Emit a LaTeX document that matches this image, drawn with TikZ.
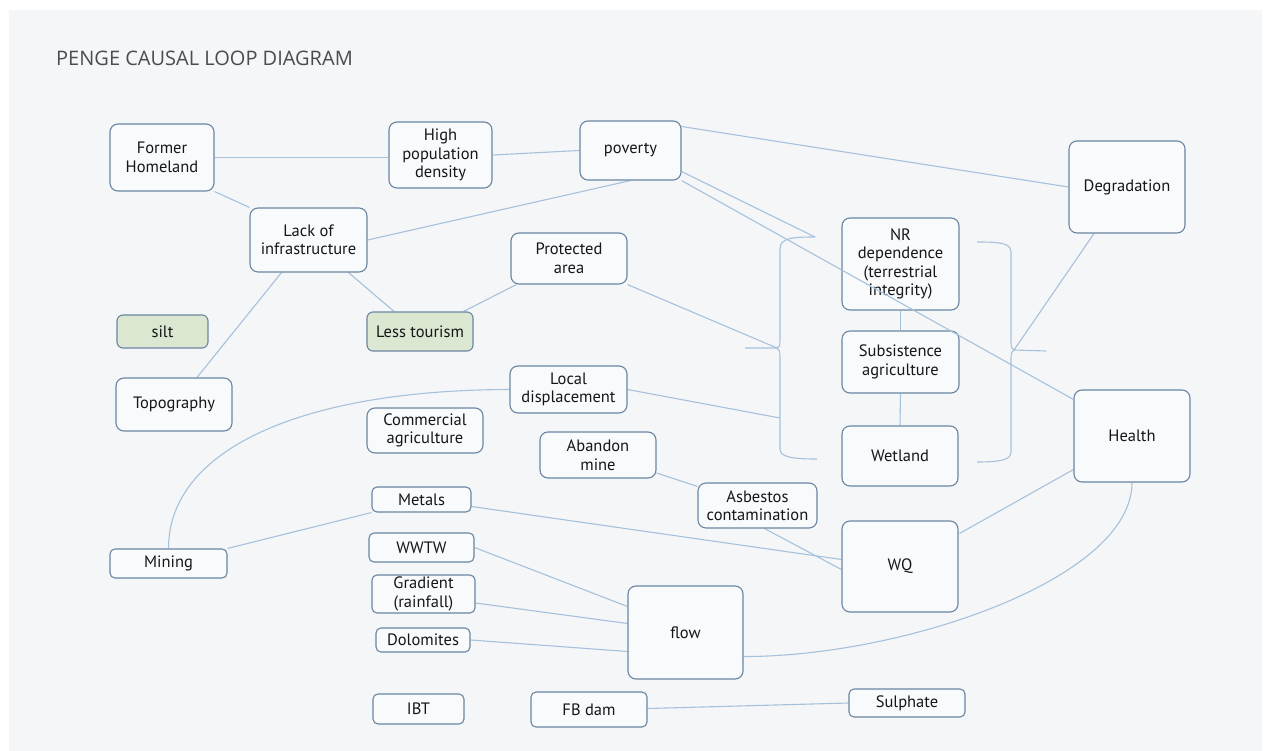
\documentclass[tikz,border=0pt]{standalone}
\usepackage{fontspec}
\setmainfont{PT Sans}
\newfontfamily\titlefont{Open Sans}
\usetikzlibrary{calc}
\definecolor{pagebg}{HTML}{F5F6F7}
\definecolor{boxfill}{HTML}{F9FAFB}
\definecolor{boxline}{HTML}{6A85A1}
\definecolor{linkline}{HTML}{A6C1DB}
\definecolor{greenfill}{HTML}{DCE7D2}
\definecolor{titlegray}{HTML}{4A4D50}
\definecolor{inkdark}{HTML}{151617}
\pgfdeclarelayer{backdrop}
\pgfdeclarelayer{links}
\pgfsetlayers{backdrop,links,main}
\tikzset{
  box/.style={draw=boxline, line width=1.1pt, fill=boxfill, rounded corners=8pt,
    inner sep=0pt, align=center, text=inkdark,
    font=\fontsize{16.5}{18.5}\selectfont},
  smallbox/.style={box, rounded corners=5pt},
  greenbox/.style={box, fill=greenfill, rounded corners=6pt},
  link/.style={draw=linkline, line width=1.1pt},
}
\begin{document}
\begin{tikzpicture}[x=1pt, y=-1pt]
\useasboundingbox (0,0) rectangle (1266,751);
\begin{pgfonlayer}{backdrop}
\fill[white] (0,0) rectangle (1266,751);
\fill[pagebg] (9,10) rectangle (1262,751);
\end{pgfonlayer}

\node[anchor=west, text=titlegray, inner sep=0pt, font=\titlefont\fontsize{20}{22}\selectfont]
  (title) at (56,58.5) {PENGE CAUSAL LOOP DIAGRAM};

% variables
\node[box, minimum width=104, minimum height=67] (fh)   at (162,157.5)  {Former\\Homeland};
\node[box, minimum width=103, minimum height=66] (hpd)  at (440.5,155)  {High\\population\\density};
\node[box, minimum width=101, minimum height=59] (pov)  at (630.5,150.5) {poverty};
\node[box, minimum width=116, minimum height=92] (deg)  at (1127,187)   {Degradation};
\node[box, minimum width=117, minimum height=64] (loi)  at (308.5,240)  {Lack of\\infrastructure};
\node[box, minimum width=116, minimum height=51] (pa)   at (569,258.5)  {Protected\\area};
\node[box, minimum width=117, minimum height=92] (nr)   at (900.5,264)  {NR\\dependence\\(terrestrial\\integrity)};
\node[greenbox, minimum width=91, minimum height=33] (silt) at (162.5,331.5) {silt};
\node[greenbox, minimum width=106, minimum height=39] (lt) at (420,331.5) {Less tourism};
\node[box, minimum width=117, minimum height=62] (sa)   at (900.5,362)  {Subsistence\\agriculture};
\node[box, minimum width=116, minimum height=53] (topo) at (174,404.5)  {Topography};
\node[box, minimum width=117, minimum height=47] (ld)   at (568.5,389.5) {Local\\displacement};
\node[box, minimum width=116, minimum height=45] (ca)   at (425,430.5)  {Commercial\\agriculture};
\node[box, minimum width=116, minimum height=46] (am)   at (598,455)    {Abandon\\mine};
\node[box, minimum width=116, minimum height=60] (wet)  at (900,456)    {Wetland};
\node[box, minimum width=116, minimum height=92] (hea)  at (1132,436)   {Health};
\node[box, minimum width=119, minimum height=45] (asb)  at (757.5,505.5) {Asbestos\\contamination};
\node[smallbox, minimum width=99, minimum height=25] (met) at (421.5,499.5) {Metals};
\node[box, minimum width=116, minimum height=91] (wq)   at (900,566.5)  {WQ};
\node[smallbox, minimum width=117, minimum height=29] (min) at (168.5,563.5) {Mining};
\node[smallbox, minimum width=105, minimum height=29] (wwtw) at (421.5,547.5) {WWTW};
\node[smallbox, minimum width=103, minimum height=38] (grad) at (423.5,594) {Gradient\\(rainfall)};
\node[box, minimum width=115, minimum height=93] (flow) at (685.5,632.5) {flow};
\node[smallbox, minimum width=94, minimum height=24] (dol)  at (423,640)  {Dolomites};
\node[smallbox, minimum width=91, minimum height=30] (ibt)  at (418.5,709) {IBT};
\node[smallbox, minimum width=116, minimum height=35] (fb)   at (589,709.5) {FB dam};
\node[smallbox, minimum width=116, minimum height=28] (sul)  at (907,703)  {Sulphate};

% brace points
\coordinate (lbt) at (815,237);
\coordinate (lbc) at (777,348);
\coordinate (lbb) at (817,459);
\coordinate (lbtip) at (745,348);
\coordinate (rbt) at (977,242);
\coordinate (rbc) at (1014,350);
\coordinate (rbb) at (977,462);
\coordinate (rbtip) at (1046,351);

\begin{pgfonlayer}{links}
% grouping braces
\draw[link] (lbt) .. controls (792,237) and (780,238) .. (780,249) -- (780,340)
  .. controls (780,346) and (779,348) .. (lbc) -- (lbtip);
\draw[link] (lbc) .. controls (779,349) and (780,351) .. (780,357) -- (780,449)
  .. controls (780,457) and (792,459) .. (lbb);
\draw[link] (rbt) .. controls (1000,242) and (1011,243) .. (1011,252) -- (1011,342)
  .. controls (1011,347) and (1012,349) .. (rbc) -- (rbtip);
\draw[link] (rbc) .. controls (1012,351) and (1011,353) .. (1011,358) -- (1011,452)
  .. controls (1011,460) and (1000,462) .. (rbb);

% causal links
\draw[link] (fh.east) -- (fh.east -| hpd.west);
\draw[link] (hpd.east) -- (pov.west);
\draw[link] (fh.south east) -- (loi.north west);
\draw[link] (loi.east) -- (pov.south);
\draw[link] ($(loi.south)+(-27,0)$) -- ($(topo.north)+(23,0)$);
\draw[link] ($(loi.south)+(40,0)$) -- ($(lt.north)+(-26,0)$);
\draw[link] ($(lt.north east)+(-10,0)$) -- ($(pa.south west)+(6,0)$);
\draw[link] (pa.south east) -- (lbc);
\draw[link] (ld.east) -- (780,418);
\draw[link] ($(pov.east)+(0,-24)$) -- (deg.west);
\draw[link] ($(pov.east)+(0,21)$) -- (lbt);
\draw[link] (nr.south) -- (sa.north);
\draw[link] (sa.south) -- (wet.north);
\draw[link] ($(deg.south)+(-33,0)$) -- (rbc);
\draw[link] (ld.west) .. controls (300,390) and (168.5,450) .. (min.north);
\draw[link] (min.north east) -- (met.south west);
\draw[link] ($(met.east)+(0,7)$) -- ($(wq.west)+(0,-7)$);
\draw[link] ($(am.east)+(0,18)$) -- ($(asb.north west)+(0,4)$);
\draw[link] ($(asb.south)+(7,0)$) -- ($(wq.west)+(0,3)$);
\draw[link] ($(wq.north east)+(1,13)$) -- ($(hea.south west)+(0,-13)$);
\draw[link] (hea.south) .. controls (1132,580) and (900,657) .. ($(flow.east)+(0,24)$);
\draw[link] (wwtw.east) -- ($(flow.west)+(0,-26)$);
\draw[link] ($(grad.east)+(0,9)$) -- ($(flow.west)+(0,-9)$);
\draw[link] (dol.east) -- ($(flow.west)+(0,19)$);
\draw[link] ($(fb.east)+(0,-1)$) -- (sul.west);
\end{pgfonlayer}

% this link runs across the NR dependence box
\draw[link] (pov.south east) -- ($(hea.north west)+(0,10)$);
\end{tikzpicture}
\end{document}
